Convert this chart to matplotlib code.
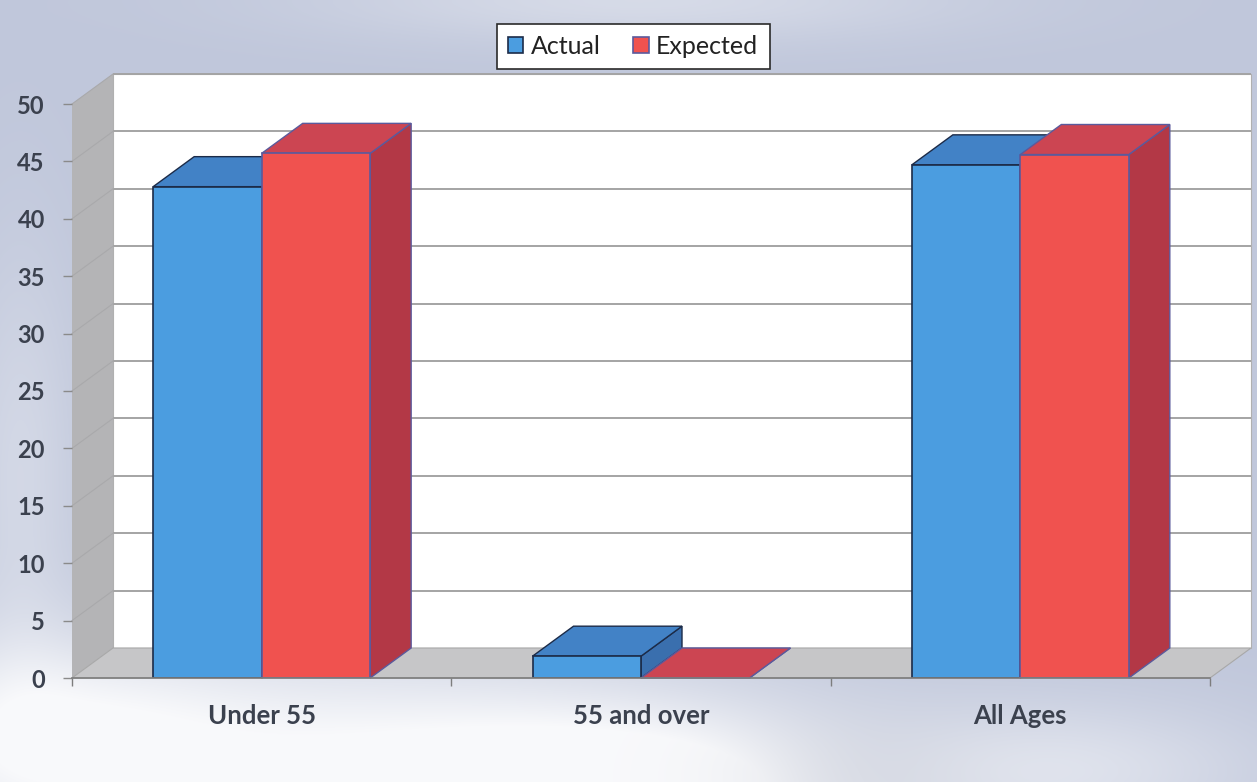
import numpy as np
import matplotlib
matplotlib.use("Agg")
import matplotlib.pyplot as plt
from matplotlib.patches import Polygon, Rectangle

# ---- data ----
categories = ["Under 55", "55 and over", "All Ages"]
actual = [42.8, 1.9, 44.7]
expected = [45.7, 0.0, 45.6]
series_names = ["Actual", "Expected"]
y_ticks = [0, 5, 10, 15, 20, 25, 30, 35, 40, 45, 50]

# ---- styling ----
W, H = 1257, 782
FONT = ["Lato", "DejaVu Sans"]
TEXT_COLOR = "#3b414e"
blue = dict(front="#4b9de0", top="#4282c6", side="#3a6fae", edge="#1c2b48")
red = dict(front="#f0524f", top="#cc4552", side="#b33846", edge="#5b5a9c")
BAR_W = 0.286

plt.rcParams["font.family"] = FONT

fig = plt.figure(figsize=(W / 100, H / 100), dpi=100)

# soft blue-grey page background with lighter patches
bg = fig.add_axes([0, 0, 1, 1])
bg.axis("off")
yy, xx = np.mgrid[0:H, 0:W].astype(float)
base = np.array([192, 199, 219]) / 255.0
light = np.zeros((H, W))
for cx, cy, sx, sy, a in [(640, 0, 230, 30, 0.35), (280, 770, 300, 90, 0.85),
                          (640, 790, 170, 60, 0.8), (1060, 770, 150, 50, 0.45),
                          (20, 470, 40, 160, 0.3), (40, 720, 120, 60, 0.4)]:
    light += a * np.exp(-0.5 * (((xx - cx) / sx) ** 2 + ((yy - cy) / sy) ** 2))
dark = 0.22 * np.exp(-0.5 * (((xx - 860) / 90) ** 2 + ((yy - 775) / 45) ** 2))
light = np.clip(light, 0, 0.9)
img = base * (1 - light[..., None]) + light[..., None]
img = img * (1 - dark[..., None]) + np.array([165, 170, 186]) / 255.0 * dark[..., None]
bg.imshow(img, extent=[0, W, H, 0], aspect="auto")
bg.set_xlim(0, W)
bg.set_ylim(H, 0)

# main plotting area: front plane of the 3-D box
x0_px, x1_px, y0_px, y1_px = 72, 1210, 678, 104
ax = fig.add_axes([x0_px / W, (H - y0_px) / H, (x1_px - x0_px) / W, (y0_px - y1_px) / H])
ax.set_xlim(-0.5, 2.5)
ax.set_ylim(0, 50)
ax.patch.set_alpha(0)
for s in ax.spines.values():
    s.set_visible(False)

# depth offset of the box in data units
DX = 41 / ((x1_px - x0_px) / 3)
DY = 30 / ((y0_px - y1_px) / 50)
xl, xr, ytop = -0.5, 2.5, 50

# walls and floor
ax.add_patch(Polygon([(xl, 0), (xl + DX, DY), (xl + DX, ytop + DY), (xl, ytop)],
                     closed=True, facecolor="#b4b4b6", edgecolor="none", zorder=0.5, clip_on=False))
ax.add_patch(Rectangle((xl + DX, DY), xr - xl, ytop, facecolor="white",
                       edgecolor="#b0b0b0", lw=0.8, zorder=0.5, clip_on=False))
ax.add_patch(Polygon([(xl, 0), (xr, 0), (xr + DX, DY), (xl + DX, DY)],
                     closed=True, facecolor="#c6c6c8", edgecolor="#a8a8a8", lw=0.8,
                     zorder=0.6, clip_on=False))
for v in y_ticks[1:]:
    ax.plot([xl + DX, xr + DX], [v + DY, v + DY], color="#a4a4a4", lw=1.4,
            zorder=0.7, clip_on=False, solid_capstyle="butt")
    ax.plot([xl, xl + DX], [v, v + DY], color="#a9a9ab", lw=0.8, zorder=0.7, clip_on=False)

# bars, drawn left to right so nearer faces cover farther ones
xpos = np.arange(len(categories))
bars_a = ax.bar(xpos - BAR_W / 2, actual, BAR_W, color=blue["front"],
                edgecolor=blue["edge"], lw=1.2, label=series_names[0])
bars_e = ax.bar(xpos + BAR_W / 2, expected, BAR_W, color=red["front"],
                edgecolor=red["edge"], lw=1.2, label=series_names[1])

z = 2.0
for i in range(len(categories)):
    for bar, pal in ((bars_a[i], blue), (bars_e[i], red)):
        bx0 = bar.get_x()
        bx1 = bx0 + bar.get_width()
        h = bar.get_height()
        side = Polygon([(bx1, 0), (bx1 + DX, DY), (bx1 + DX, h + DY), (bx1, h)], closed=True,
                       facecolor=pal["side"], edgecolor=pal["edge"], lw=1.0, zorder=z)
        top = Polygon([(bx0, h), (bx1, h), (bx1 + DX, h + DY), (bx0 + DX, h + DY)], closed=True,
                      facecolor=pal["top"], edgecolor=pal["edge"], lw=1.0, zorder=z + 0.01)
        ax.add_patch(side)
        ax.add_patch(top)
        side.set_clip_on(False)
        top.set_clip_on(False)
        bar.set_zorder(z + 0.02)
        if h == 0:
            bar.set_visible(False)
        z += 0.1

# front axis line
ax.plot([xl, xr], [0, 0], color="#7d7d7d", lw=1.2, zorder=10, clip_on=False)

ax.set_yticks(y_ticks)
ax.set_yticklabels([str(t) for t in y_ticks])
ax.tick_params(axis="y", length=6.5, width=1, color="#8a8a8a", pad=13,
               labelsize=17, labelcolor=TEXT_COLOR)
for lab in ax.get_yticklabels():
    lab.set_fontweight("bold")

ax.set_xticks(xpos)
ax.set_xticklabels(categories)
ax.set_xticks([-0.5, 0.5, 1.5, 2.5], minor=True)
ax.tick_params(axis="x", which="major", length=0, pad=19, labelsize=18.5, labelcolor=TEXT_COLOR)
ax.tick_params(axis="x", which="minor", length=6, width=1, color="#7d7d7d")
for lab in ax.get_xticklabels():
    lab.set_fontweight("bold")

leg = fig.legend(handles=[bars_a, bars_e], labels=series_names, loc="center",
                 bbox_to_anchor=(633 / W, 1 - 46.5 / H), ncol=2, frameon=True,
                 fancybox=False, edgecolor="#2a2a2a", framealpha=1, fontsize=18,
                 handlelength=0.62, handleheight=0.62, handletextpad=0.3,
                 columnspacing=1.3, borderpad=0.45)
leg.get_frame().set_linewidth(1.2)
for t in leg.get_texts():
    t.set_color("#222222")

fig.savefig("out.png", dpi=100)
